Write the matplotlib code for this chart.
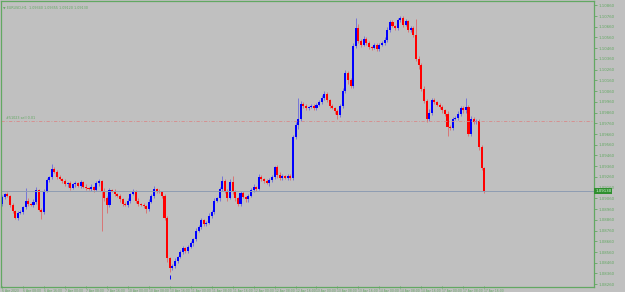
import matplotlib
matplotlib.use('Agg')
import matplotlib.pyplot as plt
from matplotlib.transforms import blended_transform_factory

# EURUSD H1, 6 Apr 2023 00:00 -> 17 Apr 2023 16:00 (closes)
first_open = 1.0901
closes = [
    1.0907, 1.0910, 1.0908, 1.0900, 1.0894, 1.0888, 1.0892, 1.0893, 1.0898, 1.0904,
    1.0901, 1.0900, 1.0903, 1.0914, 1.0895, 1.0893, 1.0913, 1.0923, 1.0926, 1.0933,
    1.0931, 1.0926, 1.0924, 1.0922, 1.0919, 1.0920, 1.0916, 1.0919, 1.0920, 1.0918,
    1.0921, 1.0917, 1.0916, 1.0915, 1.0917, 1.0914, 1.0920, 1.0922, 1.0913, 1.0906,
    1.0900, 1.0914, 1.0913, 1.0910, 1.0908, 1.0905, 1.0901, 1.0900, 1.0904, 1.0910,
    1.0913, 1.0904, 1.0901, 1.0900, 1.0899, 1.0896, 1.0903, 1.0908, 1.0915, 1.0913,
    1.0912, 1.0908, 1.0888, 1.0850, 1.0841, 1.0843, 1.0848, 1.0851, 1.0856, 1.0860,
    1.0857, 1.0861, 1.0864, 1.0868, 1.0876, 1.0879, 1.0886, 1.0882, 1.0883, 1.0890,
    1.0893, 1.0904, 1.0906, 1.0915, 1.0922, 1.0913, 1.0906, 1.0921, 1.0912, 1.0906,
    1.0901, 1.0911, 1.0907, 1.0905, 1.0908, 1.0914, 1.0917, 1.0915, 1.0926, 1.0924,
    1.0922, 1.0920, 1.0923, 1.0926, 1.0935, 1.0928, 1.0925, 1.0927, 1.0925, 1.0927,
    1.0925, 1.0963, 1.0974, 1.0980, 1.0994, 1.0992, 1.0990, 1.0991, 1.0992, 1.0990,
    1.0993, 1.0996, 1.1000, 1.1003, 1.0998, 1.0992, 1.0990, 1.0987, 1.0984, 1.0992,
    1.1006, 1.1023, 1.1016, 1.1011, 1.1048, 1.1065, 1.1053, 1.1049, 1.1055, 1.1051,
    1.1047, 1.1046, 1.1049, 1.1045, 1.1049, 1.1051, 1.1054, 1.1063, 1.1070, 1.1067,
    1.1065, 1.1072, 1.1074, 1.1068, 1.1071, 1.1063, 1.1065, 1.1058, 1.1036, 1.1030,
    1.1008, 1.0997, 1.0980, 1.0986, 1.0998, 1.0996, 1.0993, 1.0991, 1.0988, 1.0985,
    1.0973, 1.0972, 1.0980, 1.0981, 1.0985, 1.0990, 1.0988, 1.0991, 1.0966, 1.0980,
    1.0977, 1.0978, 1.0954, 1.0934, 1.0913,
]
# wick lengths in pips above max(open, close) / below min(open, close)
upper_wick = [
    2, 1, 2, 1, 2, 1, 2, 2, 1, 12, 2, 1, 2, 3, 1, 2, 2, 2, 1, 5,
    2, 1, 2, 1, 2, 1, 2, 1, 2, 1, 2, 1, 2, 1, 2, 1, 2, 2, 1, 3,
    2, 2, 1, 2, 1, 2, 1, 2, 2, 1, 2, 1, 2, 1, 2, 1, 2, 2, 3, 1,
    2, 1, 2, 2, 1, 2, 2, 1, 2, 2, 1, 2, 2, 1, 2, 2, 2, 1, 2, 2,
    2, 2, 1, 2, 5, 2, 2, 3, 6, 2, 1, 2, 2, 1, 2, 2, 2, 1, 3, 2,
    1, 2, 2, 2, 1, 2, 3, 2, 1, 2, 2, 2, 3, 20, 3, 2, 2, 1, 2, 2,
    2, 2, 2, 3, 2, 1, 2, 1, 2, 2, 3, 3, 2, 2, 3, 9, 4, 2, 2, 1,
    2, 1, 2, 2, 2, 2, 2, 3, 2, 2, 1, 2, 2, 2, 2, 1, 2, 2, 15, 3,
    2, 3, 2, 3, 2, 2, 1, 2, 2, 1, 2, 1, 2, 2, 2, 2, 2, 9, 2, 3,
    2, 2, 2, 2, 1,
]
lower_wick = [
    2, 2, 1, 2, 2, 1, 2, 1, 2, 2, 2, 1, 2, 2, 1, 6, 2, 1, 2, 2,
    1, 2, 1, 2, 1, 2, 2, 1, 2, 1, 2, 1, 2, 1, 2, 2, 1, 2, 37, 2,
    8, 2, 1, 2, 1, 2, 2, 1, 2, 2, 1, 2, 2, 1, 2, 4, 2, 1, 2, 2,
    1, 2, 2, 3, 4, 2, 2, 2, 1, 2, 2, 2, 1, 2, 2, 1, 2, 2, 2, 1,
    2, 2, 1, 2, 2, 2, 2, 1, 2, 2, 2, 2, 1, 2, 2, 1, 2, 2, 1, 2,
    2, 1, 2, 2, 2, 3, 2, 2, 1, 2, 2, 2, 2, 3, 2, 2, 2, 2, 1, 2,
    2, 1, 2, 2, 2, 2, 1, 2, 4, 2, 2, 2, 3, 2, 2, 2, 2, 2, 1, 2,
    2, 2, 1, 2, 2, 1, 2, 2, 2, 1, 2, 2, 2, 2, 1, 2, 2, 2, 2, 3,
    2, 2, 3, 2, 2, 2, 1, 2, 2, 2, 9, 2, 2, 1, 2, 2, 2, 2, 2, 2,
    2, 2, 3, 2, 2,
]
time_labels = [
    '6 Apr 2023', '6 Apr 08:00', '6 Apr 16:00', '7 Apr 00:00', '7 Apr 08:00',
    '7 Apr 16:00', '10 Apr 00:00', '10 Apr 08:00', '10 Apr 16:00', '11 Apr 00:00',
    '11 Apr 08:00', '11 Apr 16:00', '12 Apr 00:00', '12 Apr 08:00', '12 Apr 16:00',
    '13 Apr 00:00', '13 Apr 08:00', '13 Apr 16:00', '14 Apr 00:00', '14 Apr 08:00',
    '14 Apr 16:00', '17 Apr 00:00', '17 Apr 08:00', '17 Apr 16:00',
]
price_ticks = [
    1.1086, 1.1076, 1.1066, 1.1056, 1.1046, 1.1036, 1.1026, 1.1016, 1.1006,
    1.0996, 1.0986, 1.0976, 1.0966, 1.0956, 1.0946, 1.0936, 1.0926, 1.0916,
    1.0906, 1.0896, 1.0886, 1.0876, 1.0866, 1.0856, 1.0846, 1.0836, 1.0826,
]
last_price = 1.0913
order_price = 1.09785

bg = '#c0c0c0'
green = '#62a862'
bull = '#0000ff'
bear = '#ff0000'

opens = [first_open] + closes[:-1]
n = len(closes)
x = list(range(n))
highs = [max(o, c) + u / 10000 for o, c, u in zip(opens, closes, upper_wick)]
lows = [min(o, c) - d / 10000 for o, c, d in zip(opens, closes, lower_wick)]
colors = [bull if c >= o else bear for o, c in zip(opens, closes)]

fig = plt.figure(figsize=(6.25, 2.92), dpi=100)
fig.patch.set_facecolor(bg)
ax = fig.add_axes([1 / 625, 5 / 292, 593 / 625, 286 / 292])
ax.set_facecolor(bg)

# wicks then bodies
ax.vlines(x, lows, highs, colors=colors, linewidth=0.6, alpha=0.45)
heights = [max(abs(c - o), 0.00004) for o, c in zip(opens, closes)]
bottoms = [min(o, c) for o, c in zip(opens, closes)]
ax.bar(x, heights, bottom=bottoms, width=0.78, color=colors, linewidth=0)

ax.set_xlim(-0.4, 225.9)
ax.set_ylim(1.08234, 1.10900)

# current price line + order line
ax.axhline(last_price, color='#8e9cb2', linewidth=0.7)
ax.axhline(order_price, color='#d88a8a', linewidth=0.6, linestyle=(0, (4, 2, 1, 2)))
ax.text(1.5, order_price + 0.00004, '#51023 sell 0.01', fontsize=2.4, color=green,
        va='bottom', ha='left')

# small blue marker near the bottom
ax.vlines(64, 1.08308, 1.08345, colors=bull, linewidth=0.7)

for s in ax.spines.values():
    s.set_color(green)
    s.set_linewidth(0.9)

ax.yaxis.tick_right()
ax.set_yticks(price_ticks)
ax.set_yticklabels(['%.5f' % p for p in price_ticks])
ax.tick_params(axis='y', length=2, width=0.6, color=green, labelcolor=green,
               labelsize=2.8, pad=1.5)

ax.set_xticks(list(range(0, n, 8)))
ax.set_xticklabels(time_labels)
ax.tick_params(axis='x', length=2, width=0.6, color=green, labelcolor=green,
               labelsize=2.2, pad=0.5, direction='inout')
for lab in ax.get_xticklabels():
    lab.set_horizontalalignment('left')

# price box on the right axis
trans = blended_transform_factory(ax.transAxes, ax.transData)
ax.text(1.002, last_price, '%.5f' % last_price, transform=trans, fontsize=2.8,
        color='#e8ffe8', va='center', ha='left',
        bbox=dict(boxstyle='square,pad=0.25', facecolor='#2f8f2f', edgecolor='none'))

ax.text(0.004, 0.985, '\u25bc EURUSD,H1  1.09340 1.09355 1.09120 1.09130',
        transform=ax.transAxes, fontsize=2.4, color=green, va='top', ha='left')

fig.savefig('out.png', dpi=100, facecolor=bg)
